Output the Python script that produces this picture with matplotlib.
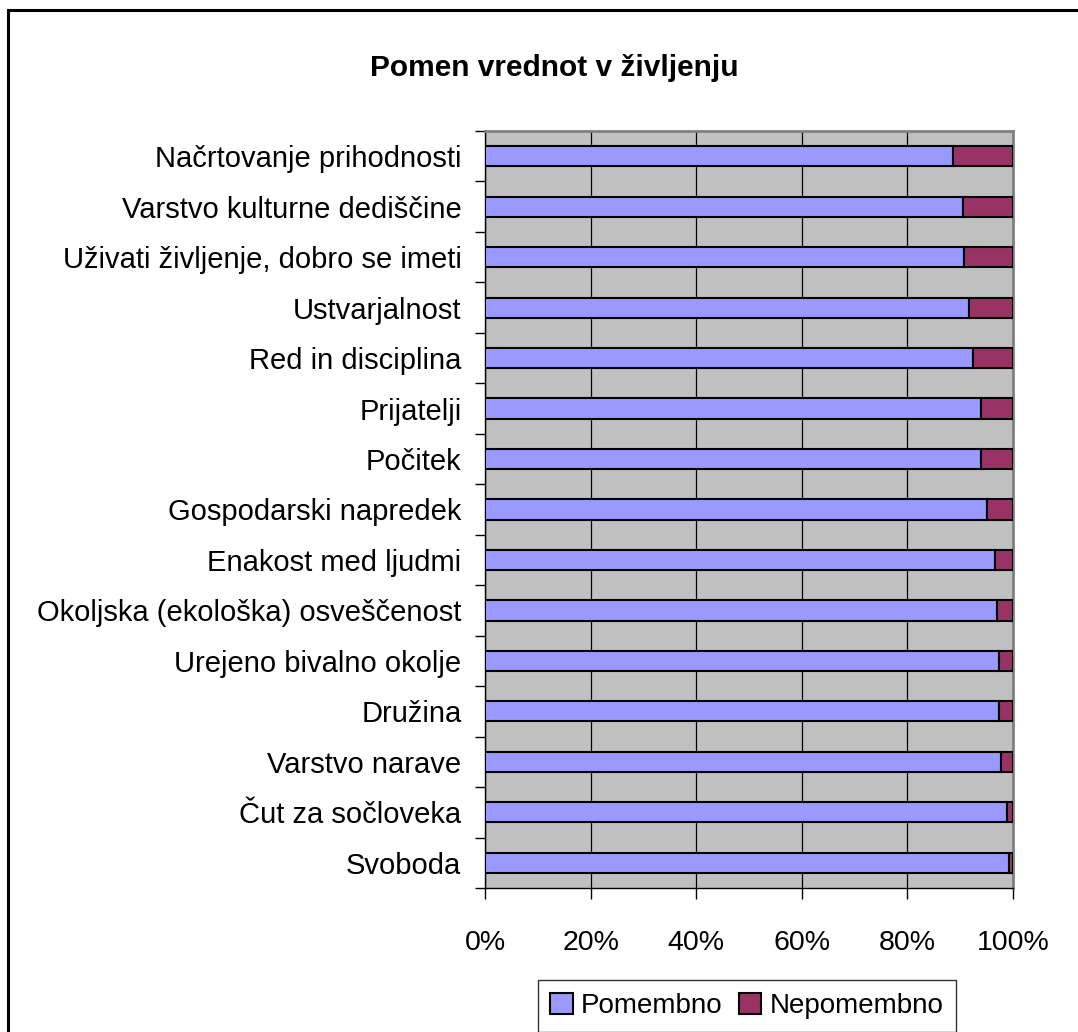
import matplotlib
matplotlib.use('Agg')
import matplotlib.pyplot as plt
import matplotlib.patches as mpatches
import numpy as np
from matplotlib.ticker import FixedLocator, PercentFormatter

plt.rcParams['font.family'] = ['Liberation Sans', 'DejaVu Sans']

# Data (share of answers, %)
categories = [
    "Načrtovanje prihodnosti",
    "Varstvo kulturne dediščine",
    "Uživati življenje, dobro se imeti",
    "Ustvarjalnost",
    "Red in disciplina",
    "Prijatelji",
    "Počitek",
    "Gospodarski napredek",
    "Enakost med ljudmi",
    "Okoljska (ekološka) osveščenost",
    "Urejeno bivalno okolje",
    "Družina",
    "Varstvo narave",
    "Čut za sočloveka",
    "Svoboda",
]
pomembno = [88.6, 90.5, 90.8, 91.7, 92.4, 93.9, 93.9, 95.1,
            96.6, 96.9, 97.3, 97.3, 97.7, 98.9, 99.2]
nepomembno = [100 - v for v in pomembno]
series_names = ["Pomembno", "Nepomembno"]
colors = ['#9999FF', '#993366']

fig = plt.figure(figsize=(10.78, 10.32), dpi=100)
ax = fig.add_axes([485 / 1078, 1 - 888 / 1032, 528 / 1078, 757 / 1032])

# outer chart frame
fig.patches.append(mpatches.Rectangle((8 / 1078, -0.05), 1.2, 1 - 10 / 1032 + 0.05,
                                      transform=fig.transFigure, fill=False,
                                      edgecolor='black', linewidth=2.2))

y = np.arange(len(categories))
ax.barh(y, pomembno, height=0.4, color=colors[0], edgecolor='black',
        linewidth=1.5, label=series_names[0], zorder=3)
ax.barh(y, nepomembno, left=pomembno, height=0.4, color=colors[1],
        edgecolor='black', linewidth=1.5, label=series_names[1], zorder=3)

ax.set_xlim(0, 100)
ax.set_ylim(len(categories) - 0.5, -0.5)
ax.set_facecolor('#C0C0C0')

ax.set_xticks([0, 20, 40, 60, 80, 100])
ax.xaxis.set_major_formatter(PercentFormatter(decimals=0))
ax.grid(axis='x', color='black', linewidth=0.9, zorder=1)
ax.set_axisbelow(True)

ax.set_yticks(y)
ax.set_yticklabels(categories)
ax.yaxis.set_minor_locator(FixedLocator(np.arange(-0.5, len(categories), 1)))
ax.tick_params(axis='y', which='major', length=0, pad=17, labelsize=21)
ax.tick_params(axis='y', which='minor', length=7, width=1, direction='out')
ax.tick_params(axis='x', length=8, width=1, direction='out', pad=22, labelsize=20.5)

for s in ['top', 'right']:
    ax.spines[s].set_color('#808080')
    ax.spines[s].set_linewidth(2)
for s in ['left', 'bottom']:
    ax.spines[s].set_color('black')
    ax.spines[s].set_linewidth(1)

fig.text(554 / 1078, 1 - 68 / 1032, 'Pomen vrednot v življenju',
         ha='center', va='center', fontsize=21.5, fontweight='bold')

leg = fig.legend(loc='center', bbox_to_anchor=(747 / 1078, 1 - 1006 / 1032),
                 ncol=2, fontsize=20, frameon=True, fancybox=False,
                 handlelength=0.8, handleheight=0.8, handletextpad=0.3,
                 columnspacing=0.6, borderpad=0.45, borderaxespad=0)
leg.get_frame().set_edgecolor('black')
leg.get_frame().set_linewidth(1)

plt.savefig('out.png', dpi=100, facecolor='white')
plt.close()
